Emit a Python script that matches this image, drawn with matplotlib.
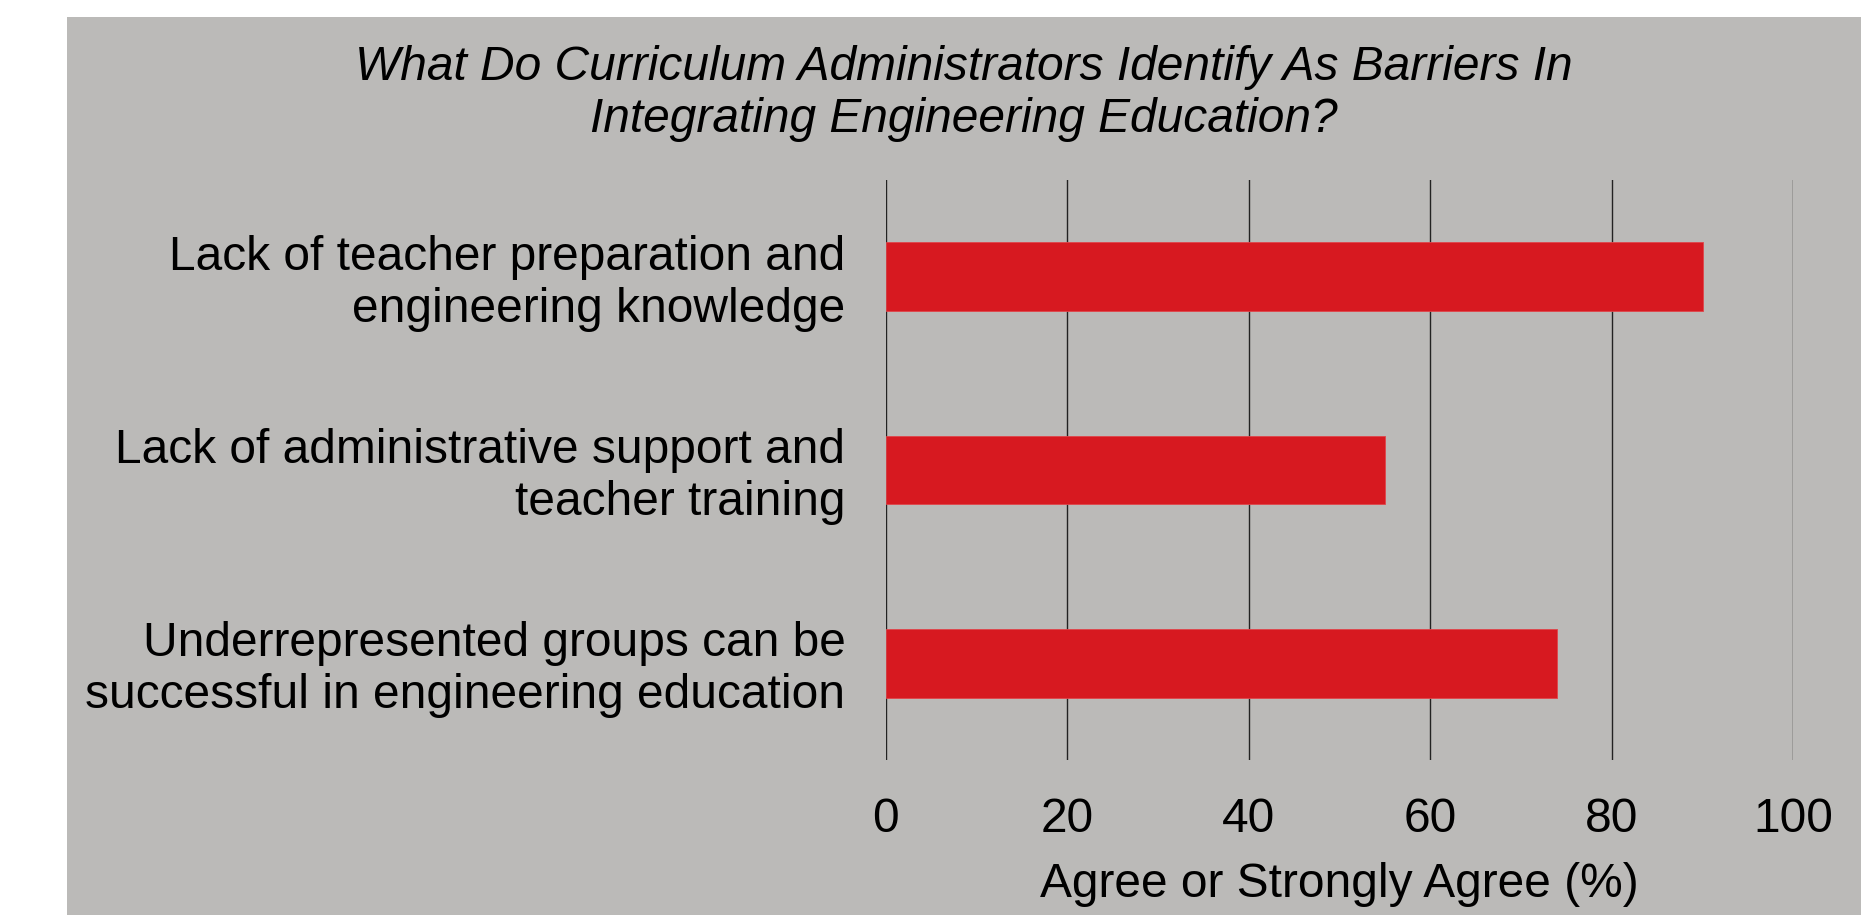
import matplotlib
matplotlib.use("Agg")
import matplotlib.pyplot as plt
import matplotlib.transforms as mtransforms
from matplotlib.patches import Rectangle

# chart data
barriers = ["Lack of teacher preparation and\nengineering knowledge",
            "Lack of administrative support and\nteacher training",
            "Underrepresented groups can be\nsuccessful in engineering education"]
agree_pct = [90, 55, 74]
xticks = [0, 20, 40, 60, 80, 100]

plt.rcParams['font.family'] = ['Liberation Sans', 'DejaVu Sans']
FS = 34.5

fig = plt.figure(figsize=(18.61, 9.15), dpi=100, facecolor='white')
# gray panel behind the chart
fig.patches.append(Rectangle((67/1861, 0), 1 - 67/1861, 1 - 17/915,
                             transform=fig.transFigure, facecolor='#BBBAB8',
                             edgecolor='none', zorder=-5))

ax = fig.add_axes([885.7/1861, 1 - 760/915, (1793.3 - 885.7)/1861, 580/915])
ax.set_facecolor('none')

ypos = list(range(len(barriers)))
ax.barh(ypos, agree_pct, height=0.355, color='#D71920', edgecolor='#E0454A',
        linewidth=0.6, zorder=3)

ax.set_xlim(0, 100)
ax.set_ylim(2.5, -0.5)
ax.set_xticks(xticks)
ax.set_yticks(ypos)
ax.set_yticklabels(barriers, ha='right', va='center', multialignment='right')
ax.tick_params(axis='both', length=0, labelsize=FS, colors='black')
ax.tick_params(axis='x', pad=27)
ax.tick_params(axis='y', pad=29)

# nudge category labels down a little
shift = mtransforms.ScaledTranslation(0, -0.065, fig.dpi_scale_trans)
for lbl in ax.get_yticklabels():
    lbl.set_transform(lbl.get_transform() + shift)

for s in ax.spines.values():
    s.set_visible(False)
ax.xaxis.grid(True, color='#222222', linewidth=1.0, zorder=1)
ax.set_axisbelow(True)

ax.set_xlabel('Agree or Strongly Agree (%)', fontsize=FS, labelpad=14)

fig.text(964/1861, 1 - 45/915,
         "What Do Curriculum Administrators Identify As Barriers In\nIntegrating Engineering Education?",
         ha='center', va='top', fontsize=FS, style='italic')

fig.savefig('out.png', dpi=100, facecolor=fig.get_facecolor())
